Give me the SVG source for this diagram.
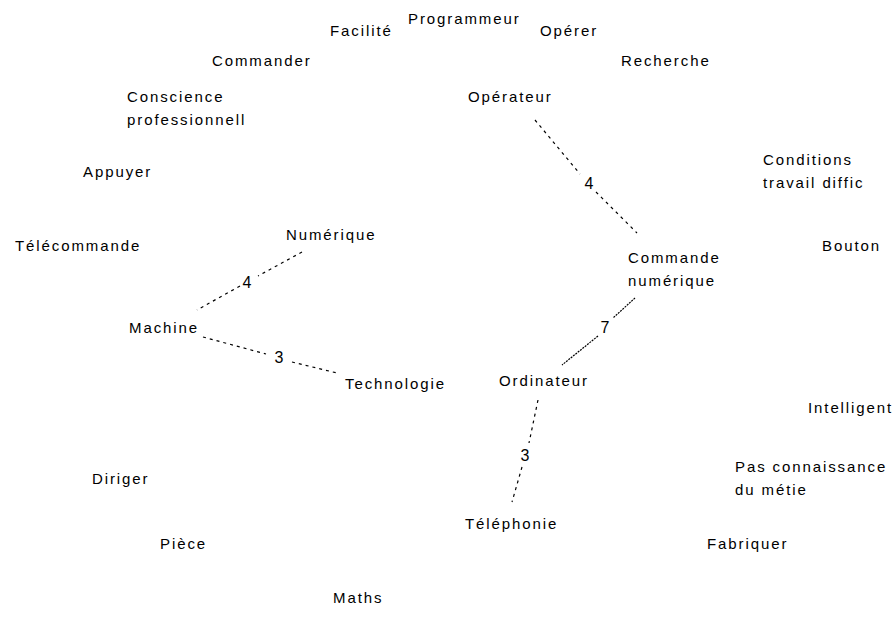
<svg xmlns="http://www.w3.org/2000/svg" width="893" height="628" viewBox="0 0 893 628">
<style>
text{font-family:"Liberation Sans",Arial,sans-serif;font-size:15px;letter-spacing:1.9px;fill:#000}
.w{font-size:16px;letter-spacing:0}
.c{fill:none;stroke:#000;stroke-width:1.2;stroke-dasharray:3 4}
.d{fill:none;stroke:#000;stroke-width:1.2;stroke-dasharray:2 1}
</style>
<rect width="893" height="628" fill="#fff"/>
<g id="connectors">
<path class="c" d="M302 252 L258 276 M240 286 L197 310"/>
<path class="c" d="M203 337 L266 354 M292 362 L337 373"/>
<path class="c" d="M535 120 L580 174 M596 192 L637 233"/>
<path class="d" d="M635 298 L613 318 M598 336 L562 365"/>
<path class="c" d="M538 400 L529 443 M522 467 L512 502"/>
<text class="w" x="247" y="288" text-anchor="middle">4</text>
<text class="w" x="279" y="363" text-anchor="middle">3</text>
<text class="w" x="589" y="189" text-anchor="middle">4</text>
<text class="w" x="605" y="333" text-anchor="middle">7</text>
<text class="w" x="525" y="461" text-anchor="middle">3</text>
</g>
<g id="facilite"><text x="330" y="36">Facilité</text></g>
<g id="programmeur"><text x="408" y="24">Programmeur</text></g>
<g id="operer"><text x="540" y="36">Opérer</text></g>
<g id="commander"><text x="212" y="66">Commander</text></g>
<g id="recherche"><text x="621" y="66">Recherche</text></g>
<g id="conscience"><text x="127" y="102">Conscience</text><text x="127" y="125">professionnell</text></g>
<g id="operateur"><text x="468" y="102">Opérateur</text></g>
<g id="appuyer"><text x="83" y="177">Appuyer</text></g>
<g id="conditions"><text x="763" y="165">Conditions</text><text x="763" y="188">travail diffic</text></g>
<g id="telecommande"><text x="15" y="251">Télécommande</text></g>
<g id="numerique"><text x="286" y="240">Numérique</text></g>
<g id="commande-numerique"><text x="628" y="263">Commande</text><text x="628" y="286">numérique</text></g>
<g id="bouton"><text x="822" y="251">Bouton</text></g>
<g id="machine"><text x="129" y="333">Machine</text></g>
<g id="technologie"><text x="345" y="389">Technologie</text></g>
<g id="ordinateur"><text x="499" y="386">Ordinateur</text></g>
<g id="intelligent"><text x="808" y="413">Intelligent</text></g>
<g id="pas-connaissance"><text x="735" y="472">Pas connaissance</text><text x="735" y="495">du métie</text></g>
<g id="diriger"><text x="92" y="484">Diriger</text></g>
<g id="telephonie"><text x="465" y="529">Téléphonie</text></g>
<g id="piece"><text x="160" y="549">Pièce</text></g>
<g id="fabriquer"><text x="707" y="549">Fabriquer</text></g>
<g id="maths"><text x="333" y="603">Maths</text></g>
</svg>
